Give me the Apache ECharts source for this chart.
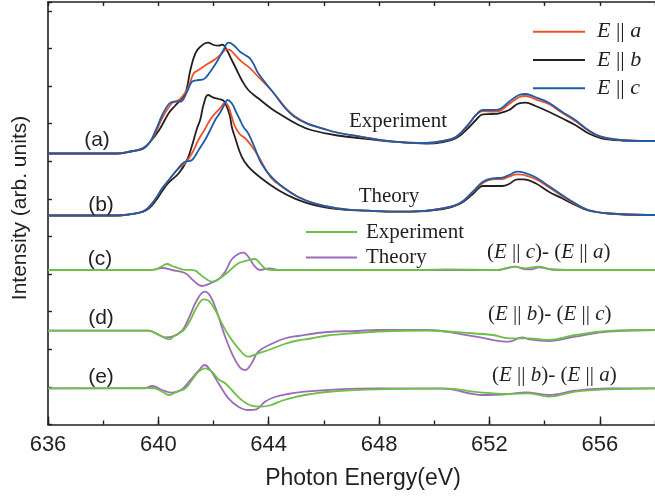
<!DOCTYPE html>
<html><head><meta charset="utf-8">
<script src="https://cdn.jsdelivr.net/npm/echarts@6/dist/echarts.min.js"></script>
<style>html,body{margin:0;padding:0;background:#fff}#c{width:655px;height:498px}</style>
</head><body><div id="c"></div>
<script>
// ---- data: [photon energy (eV), intensity (arb. units, curves offset vertically)] ----
const expA = [[636,271],[638.5,271],[639,273],[639.43,276.2],[639.67,281.5],[639.91,292.5],[640.14,306.5],[640.5,321.5],[640.74,324.5],[640.92,330],[641.1,337.8],[641.28,351.2],[641.46,354.5],[641.82,361.2],[642.06,365.2],[642.3,371.2],[642.46,375.2],[642.6,374.5],[642.78,369.5],[643.02,362.8],[643.26,357.8],[643.62,347.8],[644.09,334.5],[644.93,308.5],[646.13,294.5],[647.32,287.8],[648.52,282.8],[649.72,281.5],[650.32,283.5],[650.8,287.8],[651.27,301.2],[651.51,309.5],[651.76,313.5],[652.11,313],[652.35,313.5],[652.71,320.5],[653.07,327.2],[653.31,328.5],[653.67,325.2],[654.15,320.5],[654.63,311.8],[655.11,303.5],[655.58,294],[656.06,287.5],[656.78,284.5],[657.74,283.5],[658,283.5]];
const expB = [[636,271],[638.5,271],[639,273],[639.43,275.5],[639.67,281.5],[640.03,294.5],[640.38,311.5],[640.6,318.5],[640.74,322.8],[640.98,331.2],[641.16,354.5],[641.34,371.2],[641.52,377.8],[641.8,381.8],[642,379.5],[642.18,378.8],[642.32,379.8],[642.48,374.5],[642.66,364.5],[642.84,354.5],[643.02,344.5],[643.26,334.5],[643.62,326.2],[644.09,316],[644.34,311.5],[645.05,300],[645.53,294.5],[646.49,289],[647.92,284.5],[648.52,282.8],[649.72,281],[650.32,282.5],[650.8,286.5],[651.27,297.5],[651.51,304.5],[651.76,310.2],[652.11,310.5],[652.35,311.2],[652.71,314.5],[653.07,321.2],[653.31,321.8],[653.67,318.5],[654.15,312.8],[654.63,306.2],[655.11,299.5],[655.58,291.2],[656.06,286.2],[656.78,284],[657.74,283.5],[658,283.5]];
const expC = [[636,271],[638.5,271],[639,273],[639.43,276.2],[639.67,281.5],[639.91,294.5],[640.14,309.5],[640.38,320.5],[640.56,322.8],[640.8,322.8],[641.04,332.8],[641.22,342.8],[641.46,344.5],[641.64,345.2],[641.88,352.8],[642.12,362.8],[642.36,374.5],[642.54,381.8],[642.72,379.5],[642.96,372.8],[643.14,369.5],[643.32,366.2],[643.5,357.8],[643.62,351.2],[644.09,334.5],[644.93,307.8],[646.13,294.5],[647.32,287.8],[648.52,282.8],[649.72,281.5],[650.32,283.5],[650.8,287.8],[651.27,301.2],[651.51,309.5],[651.76,314.5],[652.11,314.5],[652.35,315.2],[652.71,322.8],[653.07,329.5],[653.31,330.5],[653.67,327.2],[654.15,321.8],[654.63,312.8],[655.11,304.5],[655.58,294.5],[656.06,287.8],[656.78,284.5],[657.74,283.5],[658,283.5]];

const thA = [[636,209],[638.5,209],[638.95,210.2],[639.43,212.8],[639.67,217.8],[639.91,226.2],[640.14,236.2],[640.38,244.5],[640.62,252.8],[640.86,259],[640.98,261.5],[641.22,271.2],[641.46,285],[641.7,296],[641.88,305],[642.06,311.2],[642.24,316.2],[642.42,321.8],[642.54,317.8],[642.66,307.8],[642.78,297.8],[642.96,290],[643.14,286.5],[643.38,278.5],[643.62,268.5],[644.09,246.5],[644.57,236.2],[645.05,227.8],[645.65,221.2],[646.49,216.2],[647.57,213.8],[648.64,212.8],[649.12,212.8],[650.32,216.2],[650.92,221.2],[651.4,232.8],[651.76,241.5],[652.11,245.2],[652.47,245.5],[652.71,247.8],[653.01,250.2],[653.25,249.5],[653.67,245.5],[654.15,237.2],[654.63,228.5],[655.11,220.5],[655.58,214.5],[656.3,211.2],[657.74,209.5],[658,209.5]];
const thB = [[636,209],[638.5,209],[638.95,210.2],[639.43,212.5],[639.67,216.5],[639.91,224],[640.14,233.5],[640.38,242],[640.74,251.2],[641.04,264.5],[641.22,279],[641.4,296],[641.52,305],[641.64,320],[641.8,329.5],[642,326.8],[642.18,325.5],[642.36,323.8],[642.48,317.8],[642.6,307.8],[642.66,297.8],[642.78,287],[643.02,267.8],[643.26,257.8],[643.73,246.2],[644.34,234.5],[644.93,226.2],[645.65,219.5],[646.61,215.2],[647.57,213.8],[648.64,212.8],[649.12,212.8],[650.32,215.5],[650.92,220.5],[651.4,230.5],[651.76,238.5],[652.11,238.5],[652.47,238.5],[652.71,240.5],[653.01,245.2],[653.25,245.2],[653.67,241.2],[654.15,232.8],[654.63,226.2],[655.11,219.5],[655.58,214],[656.3,211],[657.74,209.5],[658,209.5]];
const thC = [[636,209],[638.5,209],[638.95,210.2],[639.43,212.8],[639.67,217.8],[639.91,226.2],[640.14,236.2],[640.38,244.5],[640.62,252.8],[640.86,260.5],[640.98,262.8],[641.22,264.5],[641.46,274.5],[641.7,285],[641.88,294.5],[642.06,304.5],[642.24,312],[642.42,321.2],[642.5,324.5],[642.66,321.2],[642.84,311.2],[642.96,304.5],[643.08,297.8],[643.26,291],[643.5,276.2],[643.73,261.2],[644.09,247.8],[644.57,236.2],[645.05,227.8],[645.65,221.2],[646.49,216.2],[647.57,213.8],[648.64,212.8],[649.12,212.8],[650.32,216.2],[650.92,221.2],[651.4,232.8],[651.76,242.8],[652.11,246.2],[652.47,246.8],[652.71,249.5],[653.01,252.8],[653.25,251.8],[653.67,247.2],[654.15,238.5],[654.63,229.5],[655.11,221.2],[655.58,214.5],[656.3,211.2],[657.74,209.5],[658,209.5]];

const diffCA_exp = [[636,154.5],[639.7,154.5],[639.91,155.2],[640.14,158.5],[640.32,160.5],[640.5,158.5],[640.86,155.2],[641.34,153.8],[641.46,151.2],[641.7,146.2],[641.94,142.8],[642.18,145.2],[642.54,152.8],[642.9,161.2],[643.2,163.8],[643.5,165.5],[643.68,161.2],[643.92,155.2],[644.2,154.5],[649.5,154.5],[650.5,155],[652.3,154.5],[652.71,157.2],[652.95,157.8],[653.31,156.2],[653.79,157.8],[654.27,155],[655,154.5],[658,154.5]];
const diffCA_th = [[636,154.5],[639.7,154.5],[640.14,156.5],[640.5,154.5],[640.98,151.2],[641.28,143.8],[641.58,138.5],[641.88,141.2],[642.18,145.2],[642.42,152.8],[642.66,165.2],[642.9,170.5],[643.08,171.8],[643.26,167.8],[643.5,157.8],[643.68,154.5],[644.03,156.2],[644.34,154.5],[650,154.5],[652.3,154.5],[652.6,156],[652.95,157.8],[653.25,155.5],[653.55,155.2],[653.79,157.2],[654.27,155],[655,154.5],[658,154.5]];
const diffBC_exp = [[636,93.8],[639.6,93.8],[639.78,92.8],[640.14,87.8],[640.38,85.2],[640.62,89.5],[640.92,94.5],[641.16,104.5],[641.4,117.8],[641.64,125.2],[641.82,123.8],[642.06,114.5],[642.3,101.2],[642.54,89.5],[642.9,76.2],[643.26,67.8],[643.62,71.2],[644.09,75.5],[644.57,80.5],[645.05,84],[645.53,86],[646.13,89],[647.2,91.5],[648,93],[649.72,94],[651.04,91.8],[652.11,89.5],[652.71,86.2],[653.43,86.2],[654.15,84.5],[655.11,89.5],[656.3,93.5],[658,94.5]];
const diffBC_th = [[636,93.8],[639.67,93.8],[639.91,91.2],[640.27,87.2],[640.5,87.8],[640.86,93.8],[641.1,106.2],[641.4,124.5],[641.68,132.8],[641.88,128.5],[642.12,112.8],[642.42,87.8],[642.72,67.8],[642.96,56.8],[643.14,54.5],[643.38,61.2],[643.62,72.8],[644.09,80.5],[644.57,86],[645.05,88.5],[646.13,92.5],[647.2,93.5],[647.92,94.5],[649.72,94.5],[651.51,87.8],[652.71,82.8],[653.19,87.2],[653.43,85.2],[654.15,83.5],[655.11,87.8],[656.3,92.8],[658,94.5]];
const diffBA_exp = [[636,36.2],[639.8,36.5],[640.14,32.8],[640.38,29.5],[640.68,32.8],[640.98,36.2],[641.22,44.5],[641.46,52.8],[641.7,56.2],[641.94,52.8],[642.18,45.2],[642.42,41.2],[642.66,34.5],[643.02,24.5],[643.38,18.8],[643.73,17.8],[644.09,19.5],[644.5,24],[645.05,28],[645.53,30.5],[646.5,33.5],[647.92,35.2],[650.32,36.2],[651.76,31.8],[652.71,30.5],[653.43,31.2],[654.15,27.8],[655.11,32.8],[656.3,35.2],[658,36.2]];
const diffBA_th = [[636,36.2],[639.5,36.2],[639.78,38.5],[640.14,34.5],[640.5,31.8],[640.86,35.2],[641.16,44.5],[641.46,53.8],[641.68,59.5],[641.88,54.5],[642.18,41.2],[642.54,26.2],[642.9,17.8],[643.26,14.5],[643.55,15.2],[643.86,22.8],[644.22,27.5],[644.69,30.5],[645.29,32.8],[646.5,35.2],[647.92,36.2],[650.32,35.8],[651.76,29.5],[652.71,30.5],[653.31,32.2],[654.15,29.5],[655.11,33.8],[656.3,36.2],[658,36.2]];

// axis ranges / ticks
const xMin = 636, xMax = 658, xLabelStep = 4, xMinorStep = 2;
const yMin = 0, yMax = 422.5, yTickStep = 37.6;

// ---- styles ----
const C = {red:'#ef5228', black:'#231f20', blue:'#1d5ca8', green:'#6dbf46', purple:'#9c6cb8', axis:'#231f20'};
const SANS = "'Liberation Sans', Arial, Helvetica, sans-serif";
const SERIF = "'Liberation Serif', 'Times New Roman', Times, serif";
const LW = 1.8;

function line(name, data, color, z) {
  return {name, type:'line', data, showSymbol:false, symbol:'none', smooth:0.4,
    lineStyle:{color, width:LW}, itemStyle:{color}, z, silent:true, animation:false};
}

const chart = echarts.init(document.getElementById('c'), null, {renderer:'canvas'});

const richE = {
  i:{fontFamily:SERIF, fontStyle:'italic', fontSize:22, fill:C.axis},
  n:{fontFamily:SERIF, fontSize:22, fill:C.axis}
};
const richD = {
  i:{fontFamily:SERIF, fontStyle:'italic', fontSize:21, fill:C.axis},
  n:{fontFamily:SERIF, fontSize:21, fill:C.axis}
};
function eLabel(p){ return '{i|E}{n| || }{i|' + p + '}'; }
function dLabel(p,q){ return '{n|(}{i|E}{n| || }{i|' + p + '}{n|)- (}{i|E}{n| || }{i|' + q + '}{n|)}'; }

function legLine(x1, x2, y, color){
  return {type:'line', shape:{x1, y1:y, x2, y2:y}, style:{stroke:color, lineWidth:2}, z:100};
}
function txt(x, y, text, opts){
  return Object.assign({type:'text', x, y, z:100, style:Object.assign({text, fill:C.axis, verticalAlign:'middle'}, opts)});
}

const graphics = [
  legLine(533, 585, 31.7, C.red), legLine(533, 585, 60, C.black), legLine(533, 585, 88.3, C.blue),
  txt(597, 31.7, eLabel('a'), {rich:richE, align:'left'}),
  txt(597, 60, eLabel('b'), {rich:richE, align:'left'}),
  txt(597, 88.3, eLabel('c'), {rich:richE, align:'left'}),
  legLine(306, 357, 232, C.green), legLine(306, 357, 257.5, C.purple),
  txt(366, 232, 'Experiment', {font:'21px ' + SERIF, align:'left'}),
  txt(366, 257, 'Theory', {font:'21px ' + SERIF, align:'left'}),
  txt(398, 121, 'Experiment', {font:'21px ' + SERIF, align:'center'}),
  txt(389, 196, 'Theory', {font:'21px ' + SERIF, align:'center'}),
  txt(487, 252, dLabel('c','a'), {rich:richD, align:'left'}),
  txt(488, 314, dLabel('b','c'), {rich:richD, align:'left'}),
  txt(492, 375, dLabel('b','a'), {rich:richD, align:'left'}),
  txt(97, 140, '(a)', {font:'21px ' + SANS, align:'center'}),
  txt(101, 205, '(b)', {font:'21px ' + SANS, align:'center'}),
  txt(100, 259, '(c)', {font:'21px ' + SANS, align:'center'}),
  txt(101, 318, '(d)', {font:'21px ' + SANS, align:'center'}),
  txt(101, 377, '(e)', {font:'21px ' + SANS, align:'center'}),
  {type:'text', x:20, y:208, rotation:Math.PI/2, z:100,
    style:{text:'Intensity (arb. units)', font:'21px ' + SANS, fill:C.axis, align:'center', verticalAlign:'middle'}},
  txt(363, 479, 'Photon Energy(eV)', {font:'23px ' + SANS, align:'center'})
];

const axLine = {show:true, onZero:false, lineStyle:{color:C.axis, width:1.6}};

chart.setOption({
  animation:false,
  backgroundColor:'#ffffff',
  grid:{left:48, right:-6, top:2, bottom:73.5, containLabel:false},
  xAxis:[
    {type:'value', position:'bottom', min:xMin, max:xMax, interval:xLabelStep,
      axisLine:axLine, axisTick:{inside:true, length:8, lineStyle:{color:C.axis, width:1.4}},
      axisLabel:{margin:9, fontFamily:SANS, fontSize:22, color:C.axis, showMaxLabel:false,
        formatter:function(v){ return (v - xMin) % xLabelStep === 0 && v < xMax ? String(v) : ''; }},
      splitLine:{show:false}},
    {type:'value', position:'bottom', min:xMin, max:xMax, interval:xMinorStep,
      axisLine:{show:false}, axisTick:{inside:true, length:4, lineStyle:{color:C.axis, width:1.4}},
      axisLabel:{show:false}, splitLine:{show:false}},
    {type:'value', position:'top', min:xMin, max:xMax, interval:xMinorStep,
      axisLine:axLine, axisTick:{inside:true, length:4, lineStyle:{color:C.axis, width:1.4}},
      axisLabel:{show:false}, splitLine:{show:false}}
  ],
  yAxis:[
    {type:'value', position:'left', min:yMin, max:yMax, interval:yTickStep,
      axisLine:axLine, axisTick:{inside:true, length:4, lineStyle:{color:C.axis, width:1.4}},
      axisLabel:{show:false}, splitLine:{show:false}}
  ],
  series:[
    line('E || b (experiment)', expB, C.black, 2),
    line('E || a (experiment)', expA, C.red, 3),
    line('E || c (experiment)', expC, C.blue, 4),
    line('E || b (theory)', thB, C.black, 2),
    line('E || a (theory)', thA, C.red, 3),
    line('E || c (theory)', thC, C.blue, 4),
    line('(c)-(a) theory', diffCA_th, C.purple, 2),
    line('(c)-(a) experiment', diffCA_exp, C.green, 3),
    line('(b)-(c) theory', diffBC_th, C.purple, 2),
    line('(b)-(c) experiment', diffBC_exp, C.green, 3),
    line('(b)-(a) theory', diffBA_th, C.purple, 2),
    line('(b)-(a) experiment', diffBA_exp, C.green, 3)
  ],
  graphic:graphics
});
</script></body></html>
